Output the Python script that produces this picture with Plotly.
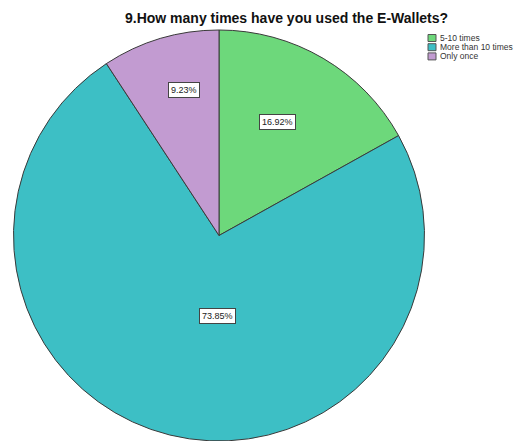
import math
import plotly.graph_objects as go

# Survey responses: usage frequency of E-Wallets
categories = ["5-10 times", "More than 10 times", "Only once"]
percentages = [16.92, 73.85, 9.23]
colors = ["#6DD87B", "#3DBFC5", "#C29BD1"]

W, H = 517, 441
# pie placement in paper units
dom_x = [13 / W, 425 / W]
dom_y = [0.0, 411 / H]

fig = go.Figure(
    go.Pie(
        labels=categories,
        values=percentages,
        sort=False,
        direction="clockwise",
        rotation=0,
        marker=dict(colors=colors, line=dict(color="#3a3a3a", width=1)),
        textinfo="none",
        hoverinfo="label+percent",
        showlegend=False,
        domain=dict(x=dom_x, y=dom_y),
    )
)

# pie geometry in pixels, used to place the boxed percentage labels
cx = (dom_x[0] + dom_x[1]) / 2 * W
cy = H - (dom_y[0] + dom_y[1]) / 2 * H
R = min((dom_x[1] - dom_x[0]) * W, (dom_y[1] - dom_y[0]) * H) / 2

# label nudges: (angle offset in degrees, radius fraction)
label_place = [(-3, 0.62), (-13, 0.39), (3, 0.73)]

annotations = []
total = sum(percentages)
start = 0.0
for i, (cat, v) in enumerate(zip(categories, percentages)):
    span = v / total * 360.0
    mid = start + span / 2 + label_place[i][0]
    r = R * label_place[i][1]
    px = cx + r * math.sin(math.radians(mid))
    py = cy - r * math.cos(math.radians(mid))
    annotations.append(
        dict(
            x=px / W, y=1 - py / H, xref="paper", yref="paper",
            text=f"{v:.2f}%", showarrow=False,
            font=dict(family="Arial", size=9, color="#222"),
            bgcolor="white", bordercolor="#444", borderwidth=1, borderpad=2,
            xanchor="center", yanchor="middle",
        )
    )
    start += span

# compact legend drawn from the category list
shapes = []
lx, ly0, step = 428, 38, 9.2
for i, (cat, col) in enumerate(zip(categories, colors)):
    yc = ly0 + i * step
    shapes.append(
        dict(
            type="rect", xref="paper", yref="paper",
            x0=lx / W, x1=(lx + 8) / W,
            y0=1 - (yc + 3.5) / H, y1=1 - (yc - 3.5) / H,
            fillcolor=col, line=dict(color="#555", width=1),
        )
    )
    annotations.append(
        dict(
            x=(lx + 10) / W, y=1 - yc / H, xref="paper", yref="paper",
            text=cat, showarrow=False, xanchor="left", yanchor="middle",
            font=dict(family="Arial", size=8.5, color="#333"),
        )
    )

annotations.append(
    dict(
        x=286 / W, y=1 - 18 / H, xref="paper", yref="paper",
        text="<b>9.How many times have you used the E-Wallets?</b>",
        showarrow=False, xanchor="center", yanchor="middle",
        font=dict(family="Arial", size=14, color="#111"),
    )
)

fig.update_layout(
    width=W, height=H,
    margin=dict(l=0, r=0, t=0, b=0),
    paper_bgcolor="white",
    plot_bgcolor="white",
    annotations=annotations,
    shapes=shapes,
)

fig.write_html("out.html")
